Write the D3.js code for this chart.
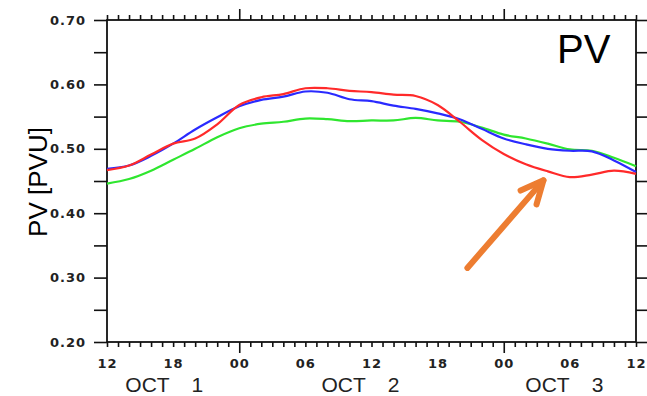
<!DOCTYPE html>
<html>
<head>
<meta charset="utf-8">
<script src="https://cdn.jsdelivr.net/npm/d3@7"></script>
<style>
  html, body { margin: 0; padding: 0; background: #fff; }
  svg { display: block; }
</style>
</head>
<body>
<svg id="chart" width="647" height="396"></svg>
<script>
// hours since 12 UTC OCT 1, every 2 h
const hours = d3.range(0, 49, 2);

// PV [PVU] for each run
const pvRed = [0.467, 0.474, 0.491, 0.508, 0.516, 0.538, 0.568, 0.580, 0.585, 0.594, 0.594, 0.590, 0.588,
  0.584, 0.582, 0.568, 0.542, 0.514, 0.492, 0.476, 0.465, 0.456, 0.460, 0.466, 0.461];
const pvBlue = [0.469, 0.474, 0.489, 0.508, 0.530, 0.549, 0.566, 0.576, 0.581, 0.589, 0.587, 0.577, 0.574,
  0.567, 0.562, 0.555, 0.546, 0.531, 0.516, 0.507, 0.500, 0.497, 0.496, 0.482, 0.464];
const pvGreen = [0.446, 0.453, 0.466, 0.483, 0.500, 0.518, 0.532, 0.539, 0.542, 0.547, 0.546, 0.543, 0.544,
  0.544, 0.548, 0.544, 0.542, 0.533, 0.522, 0.516, 0.508, 0.499, 0.497, 0.486, 0.473];

const series = [
  { name: "green", values: pvGreen, color: "#2fe62f" },
  { name: "blue", values: pvBlue, color: "#2a2aff" },
  { name: "red", values: pvRed, color: "#ff2a2a" }
];

// tick labels
const yTicks = [0.20, 0.30, 0.40, 0.50, 0.60, 0.70];
const xTickHours = [0, 6, 12, 18, 24, 30, 36, 42, 48];
const xTickLabels = ["12", "18", "00", "06", "12", "18", "00", "06", "12"];
const dayLabels = ["OCT 1", "OCT 2", "OCT 3"];
const dayLabelHours = [5.2, 23, 41.5];

// arrow annotation (hour, PV)
const arrowFrom = [32.7, 0.315];
const arrowTo = [39.6, 0.451];

const margin = { top: 20, right: 11, bottom: 54, left: 107 };
const W = 647, H = 396;

const svg = d3.select("#chart");

const x = d3.scaleLinear().domain([0, 48]).range([margin.left, W - margin.right]);
const y = d3.scaleLinear().domain([0.2, 0.7]).range([H - margin.bottom, margin.top]);

const tickFont = "'DejaVu Sans', sans-serif";

// hourly ticks bottom/top, long ones at 00
const minorHours = d3.range(0, 49);
const isDay = h => (h - 12) % 24 === 0 && h > 0 && h < 48;

const xBottom = d3.axisBottom(x).tickValues(minorHours).tickSize(5).tickFormat("");
const gxb = svg.append("g").attr("transform", `translate(0,${y(0.2)})`).call(xBottom);
gxb.selectAll(".tick line").filter(d => isDay(d)).attr("y2", 11);

const xTop = d3.axisTop(x).tickValues(minorHours).tickSize(5).tickFormat("");
const gxt = svg.append("g").attr("transform", `translate(0,${y(0.7)})`).call(xTop);
gxt.selectAll(".tick line").filter(d => isDay(d)).attr("y2", -11);

const yMinor = d3.range(0.2, 0.701, 0.05);
const gyl = svg.append("g").attr("transform", `translate(${x(0)},0)`)
  .call(d3.axisLeft(y).tickValues(yMinor).tickSize(13).tickFormat(""));
const gyr = svg.append("g").attr("transform", `translate(${x(48)},0)`)
  .call(d3.axisRight(y).tickValues(yMinor).tickSize(13).tickFormat(""));

[gxb, gxt, gyl, gyr].forEach(g => {
  g.select(".domain").remove();
  g.selectAll(".tick line").attr("stroke", "#111").attr("stroke-width", 1.6);
});

// frame
svg.append("rect")
  .attr("x", x(0)).attr("y", y(0.7))
  .attr("width", x(48) - x(0)).attr("height", y(0.2) - y(0.7))
  .attr("fill", "none").attr("stroke", "#111").attr("stroke-width", 1.8);

// y tick labels
svg.append("g").selectAll("text").data(yTicks).join("text")
  .attr("x", 86).attr("y", d => y(d)).attr("dy", "0.36em")
  .attr("text-anchor", "end")
  .attr("font-family", tickFont).attr("font-weight", "bold").attr("font-size", 13)
  .attr("letter-spacing", 1).attr("fill", "#222")
  .text(d => d3.format(".2f")(d));

// x tick labels
svg.append("g").selectAll("text").data(xTickHours).join("text")
  .attr("x", (d, i) => x(d) + 0.5).attr("y", 368)
  .attr("text-anchor", "middle")
  .attr("font-family", tickFont).attr("font-weight", "bold").attr("font-size", 13)
  .attr("letter-spacing", 1).attr("fill", "#222")
  .text((d, i) => xTickLabels[i]);

// day labels
const dayG = svg.append("g").selectAll("g").data(dayLabels).join("g")
  .attr("transform", (d, i) => `translate(${x(dayLabelHours[i])},392)`);
dayG.append("text")
  .attr("x", -39).attr("text-anchor", "start")
  .attr("font-family", "'Liberation Sans', Arial, sans-serif").attr("font-size", 21).attr("fill", "#222")
  .text(d => d.split(" ")[0]);
dayG.append("text")
  .attr("x", 39).attr("text-anchor", "end")
  .attr("font-family", "'Liberation Sans', Arial, sans-serif").attr("font-size", 21).attr("fill", "#222")
  .text(d => d.split(" ")[1]);

// lines
const line = d3.line()
  .x((d, i) => x(hours[i]))
  .y(d => y(d))
  .curve(d3.curveCatmullRom.alpha(0.5));

svg.append("g").selectAll("path").data(series).join("path")
  .attr("fill", "none")
  .attr("stroke", d => d.color)
  .attr("stroke-width", 2.2)
  .attr("d", d => line(d.values));

// axis title
svg.append("text")
  .attr("transform", `translate(47,182) rotate(-90)`)
  .attr("text-anchor", "middle")
  .attr("font-family", "'Liberation Sans', Arial, sans-serif").attr("font-size", 26).attr("fill", "#000")
  .text("PV [PVU]");

// panel title
svg.append("text")
  .attr("x", 557).attr("y", 63)
  .attr("font-family", "'Liberation Sans', Arial, sans-serif").attr("font-size", 40).attr("fill", "#000")
  .text("PV");

// arrow
const p0 = [x(arrowFrom[0]), y(arrowFrom[1])];
const p1 = [x(arrowTo[0]), y(arrowTo[1])];
const ang = Math.atan2(p0[1] - p1[1], p0[0] - p1[0]);
const headLen = 25, headSpread = 25 * Math.PI / 180;
const arm = s => [p1[0] + headLen * Math.cos(ang + s), p1[1] + headLen * Math.sin(ang + s)];
const arrowG = svg.append("g")
  .attr("stroke", "#ED7D31").attr("stroke-width", 6)
  .attr("stroke-linecap", "round").attr("stroke-linejoin", "round").attr("fill", "none");
arrowG.append("path").attr("d", d3.line()([p0, p1]));
arrowG.append("path").attr("d", d3.line()([arm(headSpread), p1, arm(-headSpread)]));
</script>
</body>
</html>
